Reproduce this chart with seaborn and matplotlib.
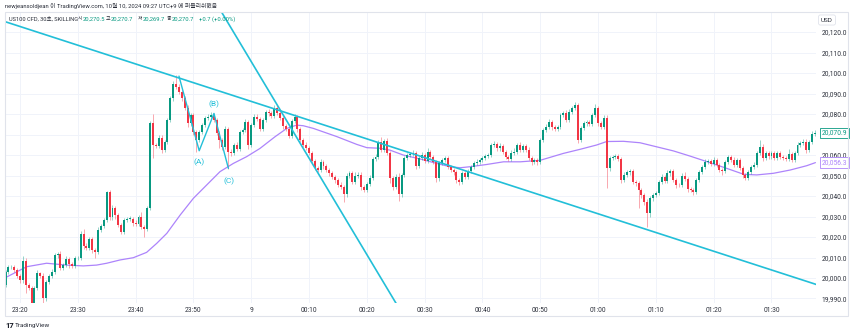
import numpy as np
import pandas as pd
import matplotlib
matplotlib.use("Agg")
import matplotlib.pyplot as plt
import seaborn as sns
from matplotlib.patches import Rectangle

# ---------------- data ----------------
first_open = 19996.6
closes = [
    20003.1, 20005.2, 20005.5, 20003.9, 20001.0, 19999.0, 20008.5, 19996.6, 19995.3, 19987.6,
    19994.9, 20002.3, 20001.2, 19990.1, 19998.0, 20001.0, 20003.0, 20011.2, 20011.8, 20004.7,
    20006.3, 20009.3, 20007.0, 20006.0, 20009.6, 20009.8, 20021.3, 20015.5, 20014.5, 20018.8,
    20013.7, 20012.8, 20023.4, 20025.5, 20028.3, 20041.8, 20030.0, 20034.0, 20030.7, 20025.9,
    20022.6, 20028.3, 20028.8, 20029.0, 20026.7, 20026.3, 20029.8, 20025.0, 20024.0, 20034.3,
    20075.4, 20064.9, 20064.5, 20068.5, 20062.5, 20066.5, 20077.1, 20087.6, 20094.5, 20093.0,
    20090.9, 20087.6, 20082.8, 20075.4, 20079.5, 20071.4, 20067.3, 20071.4, 20074.6, 20077.9,
    20078.7, 20079.5, 20077.1, 20070.6, 20067.3, 20064.1, 20072.5, 20061.6, 20060.8, 20064.9,
    20063.0, 20071.4, 20072.2, 20076.3, 20065.0, 20074.5, 20078.7, 20077.5, 20072.5, 20077.0,
    20081.1, 20080.5, 20079.0, 20083.0, 20080.5, 20078.0, 20074.0, 20072.5, 20069.5, 20076.5,
    20078.5, 20072.5, 20067.5, 20065.0, 20063.5, 20061.0, 20057.0, 20053.5, 20052.8, 20056.5,
    20054.5, 20052.7, 20051.0, 20049.4, 20047.8, 20045.4, 20044.5, 20041.0, 20050.0, 20051.0,
    20047.0, 20050.0, 20050.5, 20044.5, 20043.0, 20046.0, 20049.0, 20058.0, 20059.0, 20066.5,
    20062.5, 20067.0, 20061.0, 20048.6, 20044.5, 20049.5, 20041.0, 20050.3, 20058.4, 20060.0,
    20060.5, 20061.0, 20054.5, 20058.5, 20059.8, 20057.0, 20061.5, 20059.0, 20056.8, 20048.6,
    20056.0, 20057.5, 20058.5, 20054.3, 20052.7, 20051.5, 20047.8, 20047.0, 20051.0, 20049.5,
    20052.0, 20054.3, 20055.9, 20056.8, 20057.4, 20058.4, 20059.5, 20060.0, 20064.9, 20065.5,
    20063.2, 20064.5, 20061.6, 20059.0, 20058.0, 20060.8, 20061.6, 20064.9, 20062.5, 20064.5,
    20062.5, 20058.4, 20056.8, 20057.5, 20056.5, 20067.3, 20072.2, 20073.8, 20076.3, 20073.5,
    20072.8, 20073.5, 20079.5, 20080.5, 20077.0, 20081.1, 20082.8, 20084.4, 20067.3, 20073.0,
    20075.4, 20076.3, 20075.0, 20079.5, 20083.0, 20075.4, 20073.8, 20077.9, 20053.5, 20058.4,
    20059.0, 20059.5, 20058.0, 20048.0, 20050.3, 20051.5, 20052.0, 20047.0, 20046.5, 20043.0,
    20040.5, 20037.0, 20031.5, 20038.8, 20040.5, 20041.5, 20047.0, 20049.5, 20047.5, 20051.0,
    20052.0, 20048.0, 20045.5, 20045.3, 20050.0, 20048.5, 20043.5, 20043.0, 20042.0, 20047.8,
    20051.9, 20054.3, 20056.7, 20057.3, 20055.5, 20057.5, 20055.2, 20052.7, 20052.0, 20056.8,
    20059.0, 20057.5, 20055.0, 20057.5, 20053.5, 20050.3, 20048.6, 20051.9, 20054.3, 20055.2,
    20061.0, 20064.0, 20058.4, 20060.8, 20059.3, 20061.0, 20058.5, 20060.8, 20059.2, 20058.5,
    20058.0, 20060.5, 20057.8, 20061.0, 20064.9, 20065.7, 20066.5, 20062.5, 20066.5, 20070.5,
    20070.9,
]
wick_up = [
    0.8, 1.0, 0.6, 0.8, 1.2, 1.0, 2.0, 1.5, 0.8, 1.0, 1.2, 1.5, 0.8, 1.0, 1.2, 1.0, 1.5, 1.2, 1.0, 1.5,
    1.0, 1.2, 0.8, 1.0, 1.2, 1.0, 1.7, 2.5, 1.5, 1.0, 1.2, 0.8, 1.5, 1.0, 1.2, 0.5, 1.0, 1.5, 1.2, 1.0,
    1.0, 0.8, 1.0, 1.2, 1.0, 1.5, 1.0, 2.5, 1.0, 1.0, 1.0, 4.4, 1.0, 1.2, 1.5, 1.0, 1.0, 1.2, 1.5, 4.8,
    1.5, 1.0, 1.0, 1.5, 1.2, 1.0, 1.0, 1.0, 1.2, 1.0, 1.5, 1.5, 1.0, 1.0, 1.2, 1.0, 1.5, 1.0, 1.2, 1.0,
    1.5, 1.0, 1.2, 1.5, 1.0, 1.0, 1.5, 1.5, 1.0, 1.2, 1.0, 1.2, 1.0, 1.5, 1.5, 1.0, 1.0, 1.2, 1.0, 1.0,
    1.5, 1.0, 1.0, 1.0, 1.2, 1.0, 1.0, 1.2, 1.0, 1.5, 1.0, 1.0, 1.0, 1.2, 1.0, 1.0, 1.5, 1.0, 1.2, 1.0,
    1.0, 1.5, 1.2, 1.0, 1.0, 1.0, 1.2, 1.0, 1.5, 1.0, 2.5, 1.0, 1.5, 1.0, 1.0, 1.2, 1.5, 1.0, 1.2, 1.0,
    1.0, 1.5, 1.0, 1.2, 1.5, 1.0, 2.0, 1.0, 1.0, 1.0, 1.0, 1.2, 1.0, 1.0, 1.0, 1.2, 1.0, 1.0, 1.2, 1.0,
    1.0, 1.0, 1.0, 1.2, 1.0, 1.0, 1.0, 1.2, 1.0, 1.5, 1.0, 1.2, 1.0, 1.0, 1.0, 1.5, 2.0, 1.0, 1.5, 1.0,
    1.0, 1.5, 1.0, 1.0, 1.0, 1.0, 1.0, 1.2, 1.5, 1.0, 1.0, 1.0, 1.2, 1.0, 1.5, 1.2, 1.0, 1.6, 1.0, 1.0,
    1.0, 1.0, 1.0, 1.2, 2.0, 1.0, 1.0, 1.6, 1.5, 1.0, 1.0, 1.0, 1.0, 1.0, 1.2, 1.0, 1.0, 1.0, 1.0, 1.0,
    1.0, 1.0, 1.5, 1.0, 1.2, 1.0, 1.0, 1.2, 1.0, 1.5, 1.0, 1.0, 1.0, 1.0, 1.2, 1.5, 1.0, 1.0, 1.0, 1.0,
    1.0, 1.0, 1.2, 1.0, 1.0, 1.5, 1.0, 1.0, 1.0, 1.0, 1.2, 1.0, 1.5, 1.0, 1.0, 1.0, 1.0, 1.0, 1.0, 1.2,
    1.0, 3.5, 1.5, 1.0, 1.2, 1.0, 1.2, 1.0, 1.0, 1.0, 1.0, 2.5, 1.0, 1.0, 1.5, 1.0, 1.2, 1.5, 1.0, 1.0,
    1.5,
]
wick_dn = [
    1.0, 1.0, 0.8, 1.0, 1.0, 1.5, 1.5, 4.0, 1.0, 1.5, 1.0, 1.0, 1.0, 3.0, 1.5, 1.0, 1.0, 1.0, 1.5, 1.0,
    1.0, 1.0, 2.0, 1.0, 1.0, 1.0, 1.0, 1.5, 1.0, 1.0, 1.5, 3.0, 1.0, 1.0, 1.0, 1.0, 1.5, 1.5, 2.0, 1.0,
    1.0, 1.0, 1.0, 1.0, 1.5, 1.0, 1.0, 1.0, 4.0, 1.0, 1.0, 6.5, 1.0, 1.0, 1.7, 1.0, 1.0, 1.0, 1.0, 1.0,
    1.0, 1.0, 1.0, 1.5, 1.0, 1.5, 5.7, 1.0, 1.0, 1.0, 1.0, 1.0, 1.0, 1.0, 4.0, 1.5, 1.0, 8.3, 1.5, 1.0,
    1.0, 1.0, 1.0, 1.0, 2.0, 1.0, 1.0, 1.0, 1.0, 1.0, 1.0, 1.5, 1.0, 1.0, 1.0, 1.0, 1.5, 1.0, 1.2, 1.0,
    1.0, 1.2, 1.0, 1.0, 1.0, 1.0, 1.5, 1.0, 1.0, 1.0, 1.2, 1.0, 1.0, 1.0, 1.5, 1.2, 1.0, 4.0, 1.5, 1.0,
    1.0, 1.0, 1.0, 1.5, 1.0, 1.0, 1.0, 1.0, 1.0, 1.0, 1.0, 1.0, 1.0, 2.0, 1.5, 1.0, 3.4, 1.5, 1.0, 1.0,
    1.0, 1.0, 1.5, 1.0, 1.0, 1.0, 1.0, 1.0, 1.0, 1.6, 1.5, 1.0, 1.0, 1.0, 1.0, 1.0, 1.2, 1.5, 1.0, 1.0,
    1.0, 1.0, 1.0, 1.0, 1.0, 1.0, 1.0, 1.0, 1.0, 1.0, 1.0, 1.0, 1.2, 1.0, 1.0, 1.0, 1.0, 1.0, 1.0, 1.0,
    1.0, 1.0, 1.5, 1.0, 1.5, 1.0, 1.0, 1.0, 1.0, 1.2, 1.0, 1.0, 1.0, 1.0, 1.0, 1.0, 1.0, 1.0, 1.3, 1.0,
    1.0, 1.0, 1.0, 1.0, 1.0, 1.0, 1.0, 1.0, 9.8, 1.5, 1.0, 1.0, 1.0, 1.5, 1.0, 1.0, 1.0, 1.0, 1.5, 9.0,
    1.5, 1.5, 6.5, 1.5, 1.0, 1.0, 1.0, 1.0, 1.0, 1.0, 1.0, 1.0, 1.5, 1.0, 1.0, 1.0, 1.5, 1.0, 1.5, 1.0,
    1.0, 1.0, 1.0, 1.0, 1.0, 1.0, 1.0, 1.0, 1.5, 1.0, 1.0, 1.0, 1.0, 1.0, 1.0, 1.5, 1.0, 1.0, 1.0, 1.0,
    1.0, 1.0, 1.5, 1.0, 1.0, 1.0, 1.0, 1.0, 1.0, 1.0, 1.0, 1.0, 1.0, 1.0, 1.0, 1.0, 1.0, 1.7, 1.0, 1.0,
    1.0,
]
time_tick_idx = [5, 25, 45, 65, 85, 105, 125, 145, 165, 185, 205, 225, 245, 265]
time_labels = ["23:20", "23:30", "23:40", "23:50", "9", "00:10", "00:20", "00:30",
               "00:40", "00:50", "01:00", "01:10", "01:20", "01:30"]
price_ticks = [19990, 20000, 20010, 20020, 20030, 20040, 20050, 20060,
               20070, 20080, 20090, 20100, 20110, 20120]
hidden_price_ticks = [20070]   # covered by the last-price tag in the reference

ma_idx = [0, 7.3, 14.2, 21.1, 26.9, 31.5, 35, 39.6, 44.2, 48.8, 52.3, 55.8, 60.4, 65, 69.6,
          74.2, 78.8, 83.4, 88, 93.2, 97.3, 100.7, 103, 106.5, 114.6, 121.5, 125, 129.6, 133,
          137.6, 143.4, 149.2, 153.8, 157.3, 160.7, 166.5, 172.3, 178.1, 184.9, 193, 198.8,
          204.5, 208, 213.8, 219.5, 225.3, 231.1, 236.8, 242.6, 249.5, 255.4, 259.9, 265.7,
          271.5, 277.2, 280.2]
ma_val = [20000.2, 20005.5, 20007.2, 20006.3, 20005.9, 20006.3, 20007.2, 20008.8, 20009.9,
          20012.5, 20016.9, 20021.8, 20030.7, 20038.9, 20045.4, 20051.9, 20055.9, 20059.2,
          20063.2, 20068.9, 20073.0, 20074.6, 20074.3, 20073.0, 20069.0, 20065.2, 20063.6,
          20063.3, 20062.4, 20060.0, 20058.1, 20055.9, 20054.3, 20053.8, 20054.3, 20055.4,
          20056.7, 20056.7, 20057.4, 20060.8, 20062.8, 20064.9, 20066.6, 20066.7, 20066.0,
          20064.0, 20062.0, 20059.5, 20056.8, 20053.5, 20050.6, 20050.3, 20051.1, 20052.7,
          20054.8, 20056.3]

long_line_idx = [-5, 290]
long_line_val = [20127.3, 19992.5]
steep_line_idx = [72, 137]
steep_line_val = [20136.2, 19983.2]
abc_idx = [60.0, 67.0, 72.1, 77.1]
abc_val = [20098.5, 20062.1, 20080.3, 20053.5]
abc_labels = ["(A)", "(B)", "(C)"]
abc_label_idx = [67.1, 72.1, 77.3]
abc_label_val = [20056.6, 20084.9, 20047.3]

last_close = 20070.9
last_ma = 20056.3

header_top = "newjeansoldjean 이 TradingView.com, 10월 10, 2024 09:27 UTC+9 에 퍼블리쉬했음"
symbol_text = "US100 CFD, 30초, SKILLING"
ohlc_keys = ["시", "고", "저", "종"]
ohlc_vals = ["20,270.5", "20,270.7", "20,269.7", "20,270.7"]
change_text = "+0.7 (+0.00%)"

# ---------------- styling ----------------
sns.set_theme(style="white")
plt.rcParams['font.family'] = ['Roboto', 'Noto Sans CJK KR', 'DejaVu Sans']

GREEN = "#089981"
RED = "#f23645"
CYAN = "#22bfd8"
PURPLE = "#ad84fb"
TXT = "#2a2e39"
GRID = "#f0f3fa"

W, H = 850, 333
fig = plt.figure(figsize=(W / 100, H / 100), dpi=100)
fig.patch.set_facecolor("white")

def fx(px):
    return px / W

def fy(py):
    return 1 - py / H

ax = fig.add_axes([fx(5), fy(303), fx(816) - fx(5), fy(12) - fy(303)])
ax.set_facecolor("white")

n = len(closes)
idx = np.arange(n)
df = pd.DataFrame({"idx": idx, "close": closes, "up": wick_up, "dn": wick_dn})
df["open"] = [first_open] + closes[:-1]
df["top"] = df[["open", "close"]].max(axis=1)
df["bot"] = df[["open", "close"]].min(axis=1)
df["high"] = df["top"] + df["up"]
df["low"] = df["bot"] - df["dn"]
df["color"] = np.where(df["close"] >= df["open"], GREEN, RED)

# grid
for t in time_tick_idx:
    ax.axvline(t, color=GRID, lw=0.7, zorder=0)
for p in price_ticks:
    ax.axhline(p, color=GRID, lw=0.7, zorder=0)

# moving average
sns.lineplot(x=ma_idx, y=ma_val, ax=ax, color=PURPLE, lw=0.9, sort=False, zorder=2)

# candles
ax.vlines(df["idx"], df["low"], df["high"], colors=df["color"], lw=0.6, alpha=0.5, zorder=3)
heights = np.maximum(df["top"] - df["bot"], 0.25)
ax.bar(df["idx"], heights, bottom=df["bot"], width=0.68, color=df["color"],
       linewidth=0, zorder=4)

# drawings
sns.lineplot(x=long_line_idx, y=long_line_val, ax=ax, color=CYAN, lw=1.2, sort=False, zorder=5)
sns.lineplot(x=steep_line_idx, y=steep_line_val, ax=ax, color=CYAN, lw=1.2, sort=False, zorder=5)
sns.lineplot(x=abc_idx, y=abc_val, ax=ax, color=CYAN, lw=1.0, sort=False, zorder=5)
for lab, li, lv in zip(abc_labels, abc_label_idx, abc_label_val):
    ax.text(li, lv, lab, color=CYAN, fontsize=6, ha="center", va="center", zorder=6)

ax.set_xlim(-0.19, 280.4)
ax.set_ylim(19987.8, 20129.8)
ax.set_xlabel("")
ax.set_ylabel("")
for s in ax.spines.values():
    s.set_visible(False)

ax.set_xticks(time_tick_idx)
ax.set_xticklabels(time_labels)
ax.yaxis.tick_right()
ax.set_yticks(price_ticks)
ax.set_yticklabels(["" if p in hidden_price_ticks else f"{p:,.1f}" for p in price_ticks])
ax.tick_params(axis="x", length=0, pad=3, labelsize=4.8, labelcolor=TXT)
ax.tick_params(axis="y", length=0, pad=4, labelsize=4.8, labelcolor=TXT)

# last value labels
ax.annotate(f"{last_close:,.1f}", xy=(1.0, last_close), xycoords=("axes fraction", "data"),
            xytext=(4, 0), textcoords="offset points", fontsize=4.8, color=GREEN,
            va="center", ha="left", annotation_clip=False, zorder=10,
            bbox=dict(boxstyle="square,pad=0.25", fc="white", ec=GREEN, lw=0.6))
ax.annotate(f"{last_ma:,.1f}", xy=(1.0, last_ma), xycoords=("axes fraction", "data"),
            xytext=(4, 0), textcoords="offset points", fontsize=4.8, color=PURPLE,
            va="center", ha="left", annotation_clip=False, zorder=10,
            bbox=dict(boxstyle="square,pad=0.25", fc="white", ec=PURPLE, lw=0.6))

# frame around chart
fig.add_artist(Rectangle((fx(4.5), fy(316)), fx(848) - fx(4.5), fy(12) - fy(316),
                         transform=fig.transFigure, fill=False, ec="#e0e3eb", lw=0.8))

# USD box
fig.text(fx(827), fy(20), "USD", fontsize=4.6, color=TXT, ha="center", va="center",
         bbox=dict(boxstyle="round,pad=0.4,rounding_size=0.3", fc="white", ec="#e0e3eb", lw=0.6))

# header texts
fig.text(fx(5), fy(6), header_top, fontsize=4.2, color=TXT, ha="left", va="center")
fig.text(fx(9), fy(19), symbol_text, fontsize=4.1, color=TXT, ha="left", va="center")
key_x = [78, 106, 138, 167]
for k, v, kx in zip(ohlc_keys, ohlc_vals, key_x):
    fig.text(fx(kx), fy(19), k, fontsize=3.6, color=TXT, ha="left", va="center")
    fig.text(fx(kx + 5), fy(19), v, fontsize=4.2, color=GREEN, ha="left", va="center")
fig.text(fx(199), fy(19), change_text, fontsize=4.2, color=GREEN, ha="left", va="center")

# watermark
fig.text(fx(5), fy(325), "17", fontsize=5.5, fontweight="bold", color="#131722",
         ha="left", va="center")
fig.text(fx(15), fy(325), "TradingView", fontsize=4.6, color=TXT, ha="left", va="center")

fig.savefig("out.png", dpi=100, facecolor="white")
